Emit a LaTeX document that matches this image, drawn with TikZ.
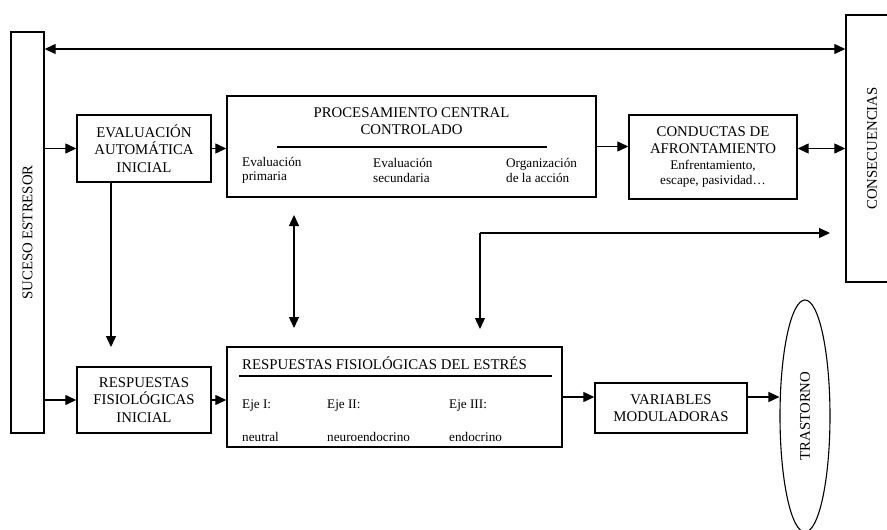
\documentclass[tikz,border=0pt]{standalone}
\usepackage{fontspec}
\setmainfont{Liberation Serif}
\usetikzlibrary{arrows.meta,shapes.geometric}
\newcommand{\grande}{\fontsize{14.8}{17.5}\selectfont}
\newcommand{\chico}{\fontsize{13.2}{14.5}\selectfont}
\tikzset{
	caja/.style={draw, line width=1.4pt, inner sep=0pt, align=center, font=\grande},
	texto/.style={inner sep=0pt, font=\chico, align=left, anchor=west},
	flecha/.style={line width=1.3pt},
}
\begin{document}
\begin{tikzpicture}[x=1pt,y=-1pt,>={Triangle[length=11pt,width=10pt]}]
	\useasboundingbox (0,0) rectangle (887,530);
		%suceso y consecuencias
			\node[caja,minimum width=33pt,minimum height=401pt] (suceso) at (27.5,232.5) {\rotatebox{90}{SUCESO ESTRESOR}};
			\node[caja,minimum width=52pt,minimum height=267pt] (consec) at (872,148.5) {\rotatebox{90}{CONSECUENCIAS}};
		% fila de arriba
			\node[caja,minimum width=134pt,minimum height=67pt] (evalauto) at (144,148.5) {EVALUACIÓN\\AUTOMÁTICA\\INICIAL};
			\node[caja,minimum width=369pt,minimum height=101pt] (procesa) at (411.5,146.5) {};
			\node[inner sep=0pt,align=center,font=\grande] (proctit) at (411.5,121) {PROCESAMIENTO CENTRAL\\CONTROLADO};
			\draw[flecha] (277,147) -- (547,147);
			\node[texto] (primaria) at (242,170.5) {Evaluación\\primaria};
			\node[texto] (secundaria) at (373,170.5) {Evaluación\\secundaria};
			\node[texto] (organiza) at (506,170.5) {Organización\\de la acción};
			\node[caja,minimum width=168pt,minimum height=84pt] (conductas) at (713,157) {CONDUCTAS DE\\AFRONTAMIENTO\\[-2pt]{\chico Enfrentamiento,}\\[-2pt]{\chico escape, pasividad…}};
		% fila de abajo
			\node[caja,minimum width=134pt,minimum height=66pt] (respini) at (144,400) {RESPUESTAS\\FISIOLÓGICAS\\INICIAL};
			\node[caja,minimum width=335pt,minimum height=100pt] (respest) at (394.5,397) {};
			\node[inner sep=0pt,anchor=west,font=\grande] (esttit) at (242,363) {RESPUESTAS FISIOLÓGICAS DEL ESTRÉS};
			\draw[flecha] (239,376) -- (552,376);
			\foreach \x/\e/\t in {242/I/neutral,327/II/neuroendocrino,449/III/endocrino}{
				\node[texto] (eje\e) at (\x,406) {Eje \e:};
				\node[texto] (tipo\e) at (\x,437) {\t};
				}
			\node[caja,minimum width=152pt,minimum height=50pt] (variables) at (671,408) {VARIABLES\\MODULADORAS};
			\node[caja,ellipse,line width=1.1pt,minimum width=50pt,minimum height=232pt] (trastorno) at (805,416) {\rotatebox{90}{TRASTORNO}};
		% puntos libres
			\coordinate (arriba) at (450,49);
			\coordinate (baja) at (111,347);
			\coordinate (va) at (294,215);
			\coordinate (vb) at (294,328);
			\coordinate (codo) at (480,233);
			\coordinate (cododer) at (830,233);
			\coordinate (codoab) at (480,329);
		% flechas
			\draw[flecha,<->] (suceso.east |- arriba) -- (consec.west |- arriba);
			\draw[flecha,->] (suceso.east |- evalauto.west) -- (evalauto.west);
			\draw[flecha,->] (evalauto.east) -- (evalauto.east -| procesa.west);
			\draw[flecha,->] (procesa.east) -- (procesa.east -| conductas.west);
			\draw[flecha,<->] (conductas.east |- consec.west) -- (consec.west);
			\draw[flecha,->] (evalauto.south -| baja) -- (baja);
			\draw[flecha,<->] (va) -- (vb);
			\draw[flecha,->] (codo) -- (cododer);
			\draw[flecha,->] (codo) -- (codoab);
			\draw[flecha,->] (suceso.east |- respini.west) -- (respini.west);
			\draw[flecha,->] (respini.east) -- (respini.east -| respest.west);
			\draw[flecha,->] (respest.east) -- (respest.east -| variables.west);
			\draw[flecha,->] (variables.east |- respest.east) -- (trastorno.west |- respest.east);
\end{tikzpicture}
\end{document}
